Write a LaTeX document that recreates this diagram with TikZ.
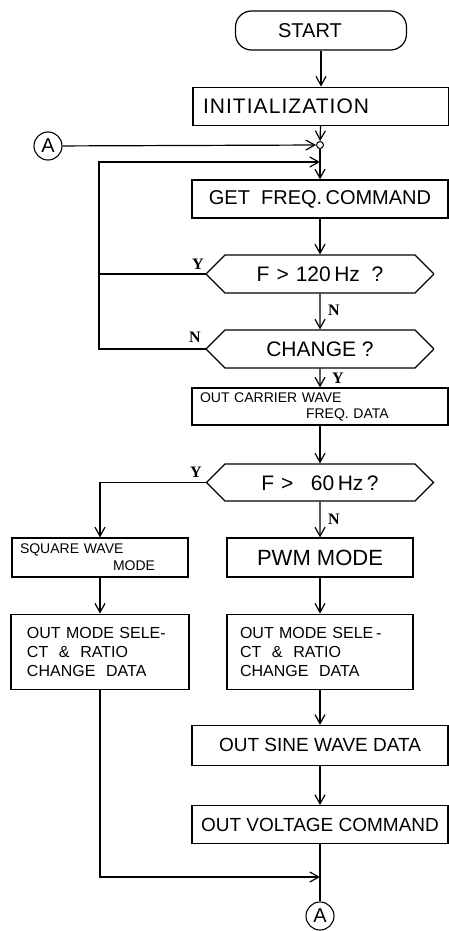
\documentclass[tikz,border=0pt]{standalone}
\usepackage{fontspec}
\setmainfont{Liberation Sans}
\newfontfamily\ynfont{Liberation Serif}
\usetikzlibrary{arrows.meta,positioning,shapes.misc}
\newcommand\hx[1]{\raisebox{-7.5pt}[0pt][0pt]{#1}}
\tikzset{
  proc/.style={draw,line width=1.2pt,rectangle,minimum height=38pt,inner sep=0pt,align=center},
  wide/.style={proc,minimum width=256pt},
  decide/.style={draw,line width=1.2pt,chamfered rectangle,chamfered rectangle xsep=18pt,chamfered rectangle ysep=18.5pt,
    minimum width=227pt,minimum height=38pt,inner sep=0pt},
  conn/.style={circle,draw,line width=1.1pt,minimum size=28pt,inner sep=0pt,font=\fontsize{20}{20}\selectfont},
  arr/.style={-{Straight Barb[length=9pt,width=10pt]},line width=1.2pt},
  line/.style={line width=1.2pt},
  yn/.style={inner sep=0pt,font=\ynfont\bfseries\fontsize{16}{16}\selectfont},
}

\begin{document}
\begin{tikzpicture}[x=1pt,y=-1pt]
\useasboundingbox (0,0) rectangle (449,931);
% main column
\node[proc,rounded corners=16pt,minimum width=171pt,minimum height=39pt,font=\fontsize{20}{20}\selectfont] (start) at (321,30.5) {START\hspace*{22pt}};
\node[wide,below=36pt of start,text width=236pt,inner xsep=10pt,align=left,font=\fontsize{21}{21}\selectfont\addfontfeature{LetterSpace=5}] (init) {INITIALIZATION};
\node[circle,draw,line width=1pt,minimum size=7pt,inner sep=0pt] (jn) at (320,145) {};
\node[conn] (a1) at (48,146) {A};
\node[wide,font=\fontsize{20}{20}\selectfont] (getf) at (320,199) {GET\ \ FREQ.\,COMMAND};
\node[decide,font=\fontsize{21}{21}\selectfont] (q1) at (320,274) {\hx{F\,\,>\,\,120\,Hz\ \ ?}};
\node[decide,font=\fontsize{21}{21}\selectfont] (q2) at (320,349) {\hx{CHANGE ?}};
\node[wide,minimum height=37pt,text width=240pt,inner xsep=8pt,align=left,font=\fontsize{14}{16}\selectfont] (carrier) at (320,406.5) {OUT CARRIER WAVE\\\hspace*{106pt}FREQ. DATA};
\node[decide,minimum height=37pt,font=\fontsize{21}{21}\selectfont] (q3) at (320,482.5) {\hx{F\,\,>\ \ \ 60\,Hz\,?}};
% two branches
\node[proc,minimum width=176pt,minimum height=39pt,text width=160pt,inner xsep=8pt,align=left,font=\fontsize{14}{17}\selectfont] (sq) at (100,557.5) {SQUARE WAVE\\\hspace*{93pt}MODE};
\node[proc,minimum width=186pt,minimum height=39pt,font=\fontsize{22}{22}\selectfont] (pwm) at (320,557.5) {PWM MODE};
\node[proc,below=36pt of sq,minimum width=178pt,minimum height=75pt,text width=146pt,inner xsep=16pt,align=left,font=\fontsize{16}{19}\selectfont] (modeL) {OUT MODE SELE-\\CT \ \&\ \ RATIO\\CHANGE\ \ DATA};
\node[proc,below=36pt of pwm,minimum width=186pt,minimum height=75pt,text width=160pt,inner xsep=13pt,align=left,font=\fontsize{16}{19}\selectfont] (modeR) {OUT MODE SELE\,-\\CT \ \&\ \ RATIO\\CHANGE\ \ DATA};
\node[wide,below=35pt of modeR,minimum height=40pt,font=\fontsize{19}{19}\selectfont] (sine) {OUT SINE WAVE DATA};
\node[wide,below=39pt of sine,font=\fontsize{19}{19}\selectfont] (volt) {OUT VOLTAGE COMMAND};
\node[conn] (a2) at (320,916) {A};
\coordinate (lp) at (99,162);
\coordinate (lj) at (320,162);
\coordinate (mg) at (320,877);
% Y / N
\node[yn] (y1) at (198,264) {Y};
\node[yn] (n1) at (334,310) {N};
\node[yn] (n2) at (195,337) {N};
\node[yn] (y2) at (338,378) {Y};
\node[yn] (y3) at (196,472) {Y};
\node[yn] (n3) at (334,519) {N};
% connectors
\draw[arr] (start) -- (init);
\draw[arr] (init) -- (jn);
\draw[arr] (a1) -- (jn);
\draw[arr] (jn) -- (getf);
\draw[line] (q1.west) -- (q1.west -| lp);
\draw[arr] (q2.west) -- (q2.west -| lp) -- (lp) -- (lj);
\draw[arr] (getf) -- (q1);
\draw[arr] (q1) -- (q2);
\draw[arr] (q2) -- (carrier);
\draw[arr] (carrier) -- (q3);
\draw[arr] (q3.west) -| (sq);
\draw[arr] (q3) -- (pwm);
\draw[arr] (sq) -- (modeL);
\draw[arr] (pwm) -- (modeR);
\draw[arr] (modeR) -- (sine);
\draw[arr] (sine) -- (volt);
\draw[arr] (modeL) |- (mg);
\draw[line] (volt) -- (a2);
\end{tikzpicture}
\end{document}
